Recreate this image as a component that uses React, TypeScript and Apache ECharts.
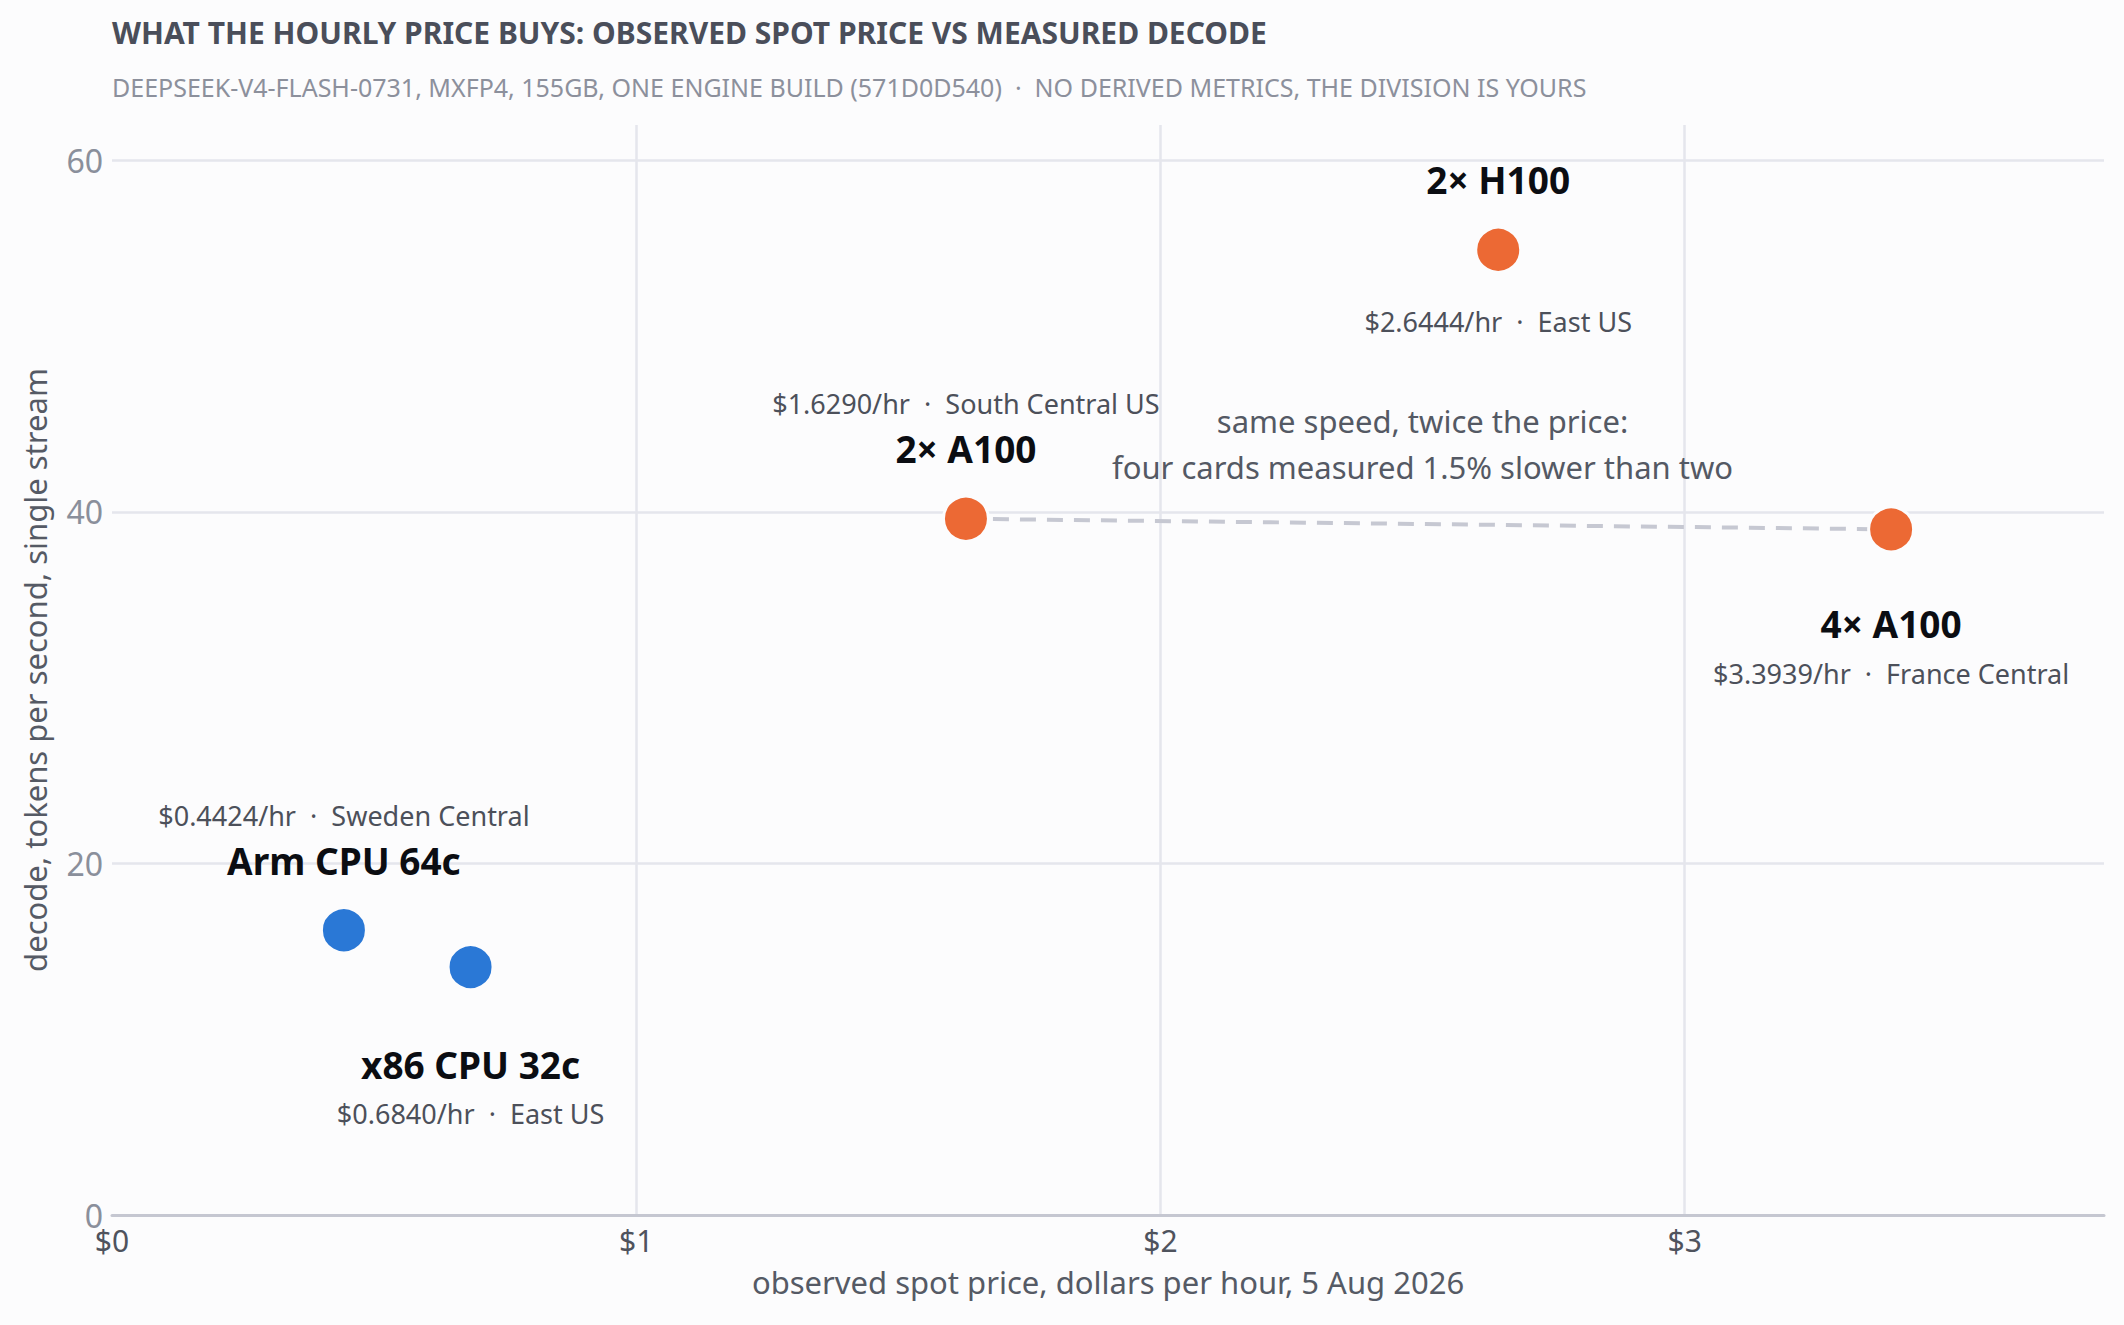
import React, { useEffect, useRef } from 'react'
import * as echarts from 'echarts'

// machines, in the order they are labelled
const machines = ['Arm CPU 64c', 'x86 CPU 32c', '2× A100', '2× H100', '4× A100']
const kinds = ['cpu', 'cpu', 'gpu', 'gpu', 'gpu']
const regions = ['Sweden Central', 'East US', 'South Central US', 'East US', 'France Central']
// observed spot price, $/hr
const prices = [0.4424, 0.684, 1.629, 2.6444, 3.3939]
// decode, tokens per second, single stream
const decode = [16.2, 14.1, 39.6, 54.9, 39.0]

// the two A100 builds joined by the dashed line
const sameSpeedPair = [2, 4]
const noteAt = [2.5, 43.85]
const noteLines = ['same speed, twice the price:', 'four cards measured 1.5% slower than two']

const xTicks = { min: 0, max: 3.8, interval: 1 }
const yTicks = { min: 0, max: 62, interval: 20 }

const TITLE = 'WHAT THE HOURLY PRICE BUYS: OBSERVED SPOT PRICE VS MEASURED DECODE'
const SUBTITLE =
  'DEEPSEEK-V4-FLASH-0731, MXFP4, 155GB, ONE ENGINE BUILD (571D0D540)  ·  NO DERIVED METRICS, THE DIVISION IS YOURS'

// label offsets from the dot centre, px (layout only)
const nameDy = [-70, 97, -70, -70, 94]
const priceDy = [-115, 146, -115, 72, 144]

const colors: Record<string, string> = { cpu: '#2a78d6', gpu: '#ec6934' }
const FONT = '"Noto Sans", sans-serif'
const BG = '#fcfcfd'

const App: React.FC = () => {
  const chartRef = useRef<HTMLDivElement>(null)

  useEffect(() => {
    if (!chartRef.current) return
    document.body.style.margin = '0'
    document.body.style.background = BG
    document.body.style.overflow = 'hidden'

    const chart = echarts.init(chartRef.current, undefined, { renderer: 'svg' })

    const labelPoint = (i: number, dy: number, text: string, style: any) => ({
      value: [prices[i], decode[i]],
      label: { show: true, position: 'inside', offset: [0, dy], formatter: text, opacity: 1, ...style },
    })

    const hidden = { color: 'rgba(0,0,0,0)', opacity: 1 }

    const option = {
      animation: false,
      backgroundColor: BG,
      textStyle: { fontFamily: FONT },
      title: {
        text: TITLE,
        subtext: SUBTITLE,
        left: 107,
        top: 12,
        itemGap: 27,
        textStyle: { fontFamily: FONT, fontSize: 30, fontWeight: 'bold', color: '#4a4e5a' },
        subtextStyle: { fontFamily: FONT, fontSize: 25, color: '#8c909c' },
      },
      grid: { left: 112, right: 20, top: 125, bottom: 110 },
      xAxis: {
        type: 'value',
        ...xTicks,
        name: 'observed spot price, dollars per hour, 5 Aug 2026',
        nameLocation: 'middle',
        nameGap: 51,
        nameTextStyle: { fontFamily: FONT, fontSize: 31, color: '#555a65' },
        axisLine: { show: true, lineStyle: { color: '#c5c7d1', width: 3 } },
        axisTick: { show: false },
        axisLabel: {
          fontFamily: FONT,
          fontSize: 30,
          color: '#4f535d',
          margin: 10,
          showMaxLabel: false,
          formatter: (v: number) => '$' + v,
        },
        splitLine: { show: true, showMinLine: false, showMaxLine: false, lineStyle: { color: '#e5e6ec', width: 2.5 } },
      },
      yAxis: {
        type: 'value',
        ...yTicks,
        name: 'decode, tokens per second, single stream',
        nameLocation: 'middle',
        nameGap: 62,
        nameTextStyle: { fontFamily: FONT, fontSize: 31, color: '#555a65' },
        axisLine: { show: false },
        axisTick: { show: false },
        axisLabel: { fontFamily: FONT, fontSize: 32, color: '#8a8f9b', margin: 9, showMaxLabel: false },
        splitLine: { show: true, showMaxLine: false, lineStyle: { color: '#e5e6ec', width: 2.5 } },
      },
      series: [
        {
          type: 'line',
          silent: true,
          symbol: 'none',
          z: 1,
          data: sameSpeedPair.map((i) => [prices[i], decode[i]]),
          lineStyle: { color: '#c6c8d2', width: 4, type: [16, 11] },
        },
        {
          type: 'scatter',
          silent: true,
          z: 3,
          symbolSize: 45,
          data: machines.map((_, i) => ({
            value: [prices[i], decode[i]],
            itemStyle: { color: colors[kinds[i]], borderColor: BG, borderWidth: 3, opacity: 1 },
          })),
        },
        {
          type: 'scatter',
          silent: true,
          z: 4,
          symbolSize: 1,
          itemStyle: hidden,
          data: machines.map((m, i) =>
            labelPoint(i, nameDy[i], m, {
              fontFamily: FONT,
              fontSize: 37,
              fontWeight: 'bold',
              color: '#0b0d12',
              textBorderWidth: 0,
            })
          ),
        },
        {
          type: 'scatter',
          silent: true,
          z: 4,
          symbolSize: 1,
          itemStyle: hidden,
          data: machines.map((_, i) =>
            labelPoint(i, priceDy[i], '$' + prices[i].toFixed(4) + '/hr  ·  ' + regions[i], {
              fontFamily: FONT,
              fontSize: 27,
              color: '#4c505a',
              textBorderWidth: 0,
            })
          ),
        },
        {
          type: 'scatter',
          silent: true,
          z: 4,
          symbolSize: 1,
          itemStyle: hidden,
          data: [
            {
              value: noteAt,
              label: {
                show: true,
                position: 'inside',
                formatter: noteLines.join('\n'),
                fontFamily: FONT,
                fontSize: 31,
                lineHeight: 46,
                align: 'center',
                color: '#545964',
                opacity: 1,
                textBorderWidth: 0,
              },
            },
          ],
        },
      ],
    }

    chart.setOption(option)
    return () => {
      chart.dispose()
    }
  }, [])

  return <div ref={chartRef} style={{ width: 2124, height: 1325 }} />
}

export default App
